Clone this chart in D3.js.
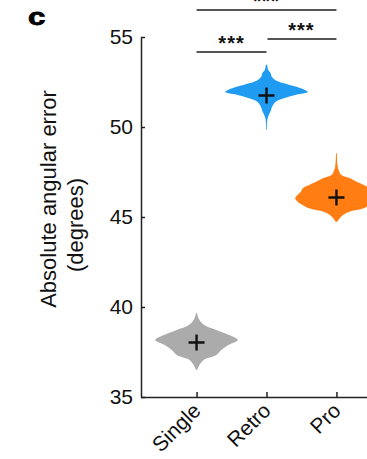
<!DOCTYPE html>
<html lang="en">

<head>
  <meta charset="UTF-8" />
  <script src="https://cdn.jsdelivr.net/npm/d3@7"></script>
  <title>Absolute angular error</title>
  <style>
    body { margin: 0; background: #fff; }
    text { font-family: "Liberation Sans", Arial, sans-serif; }
  </style>
</head>

<body>
  <svg width="367" height="459"></svg>
  <script>
    // groups along x
    const categories = ["Single", "Retro", "Pro"];
    const colors = ["#ababab", "#1f9bf2", "#ff7d12"];
    // mean of each group (degrees)
    const means = [38.03, 51.75, 46.08];
    // violin outlines: value (degrees) and relative density
    const singleValues = [39.67, 39.28, 39.0, 38.72, 38.44, 38.17, 37.89, 37.61, 37.33, 37.06, 36.78, 36.5];
    const singleDensity = [0.01, 0.07, 0.19, 0.48, 0.79, 1.0, 0.77, 0.6, 0.48, 0.17, 0.07, 0.01];
    const retroValues = [53.46, 53.18, 53.0, 52.82, 52.63, 52.44, 52.26, 52.07, 51.94, 51.79, 51.61, 51.43, 51.15, 50.87, 50.59, 50.32, 49.85];
    const retroDensity = [0.016, 0.04, 0.1, 0.12, 0.2, 0.4, 0.68, 0.92, 1.0, 0.72, 0.44, 0.24, 0.14, 0.1, 0.04, 0.016, 0.008];
    const proValues = [48.54, 47.8, 47.52, 47.33, 47.15, 46.96, 46.78, 46.59, 46.41, 46.13, 46.04, 45.85, 45.67, 45.48, 45.3, 45.11, 44.93, 44.74];
    const proDensity = [0.01, 0.03, 0.07, 0.12, 0.33, 0.49, 0.66, 0.82, 0.86, 0.98, 1.0, 0.94, 0.82, 0.66, 0.33, 0.16, 0.08, 0.02];
    const yTicks = [35, 40, 45, 50, 55];
    // significance comparisons
    const comparisons = [["Single", "Retro", "***"], ["Retro", "Pro", "***"], ["Single", "Pro", "***"]];

    const svg = d3.select("svg");

    const x = d3.scalePoint().domain(categories).range([142, 391]).padding(0.78);
    const y = d3.scaleLinear().domain([35, 55]).range([397, 37]);
    const w = d3.scaleLinear().domain([0, 1]).range([0, x.step() * 0.59]);

    const violins = [
      { cat: "Single", pts: singleValues.map((v, i) => ({ v, d: singleDensity[i] })) },
      { cat: "Retro", pts: retroValues.map((v, i) => ({ v, d: retroDensity[i] })) },
      { cat: "Pro", pts: proValues.map((v, i) => ({ v, d: proDensity[i] })) }
    ];

    const area = (cat) => d3.area()
      .y(d => y(d.v))
      .x0(d => x(cat) - w(d.d))
      .x1(d => x(cat) + w(d.d))
      .curve(d3.curveCatmullRom);

    svg.selectAll("path.violin")
      .data(violins)
      .enter()
      .append("path")
      .attr("class", "violin")
      .attr("fill", (d, i) => colors[i])
      .attr("d", d => area(d.cat)(d.pts));

    // mean markers
    const cross = svg.selectAll("g.mean")
      .data(categories)
      .enter()
      .append("g")
      .attr("class", "mean")
      .attr("transform", (d, i) => `translate(${x(d)},${y(means[i])})`);
    cross.append("path")
      .attr("d", "M-8,0H8M0,-8V8")
      .attr("stroke", "#111")
      .attr("stroke-width", 2.4);

    // y axis
    const yAxis = svg.append("g")
      .attr("transform", "translate(141,0)")
      .call(d3.axisLeft(y).tickValues(yTicks).tickSizeInner(-4).tickSizeOuter(0).tickPadding(8));
    yAxis.selectAll("text").attr("font-size", 21).attr("fill", "#111").attr("font-family", "Liberation Sans, Arial, sans-serif");

    // x axis
    const xAxis = svg.append("g")
      .attr("transform", "translate(0,397)")
      .call(d3.axisBottom(x).tickSizeInner(-5).tickSizeOuter(0));
    xAxis.select(".domain").attr("d", "M141,0.5H391");
    xAxis.selectAll("text")
      .attr("font-size", 21)
      .attr("fill", "#111")
      .attr("font-family", "Liberation Sans, Arial, sans-serif")
      .attr("text-anchor", "end")
      .attr("dy", null)
      .attr("y", 0)
      .attr("transform", "translate(5,15) rotate(-45)");

    svg.selectAll(".domain, .tick line").attr("stroke", "#222").attr("stroke-width", 1.5);

    // axis title
    const title = svg.append("text")
      .attr("transform", "translate(56,199) rotate(-90)")
      .attr("text-anchor", "middle")
      .attr("font-size", 22)
      .attr("fill", "#111");
    title.append("tspan").attr("x", 0).attr("y", 0).text("Absolute angular error");
    title.append("tspan").attr("x", -26).attr("y", 27).text("(degrees)");

    // significance bars
    const barY = [52, 39, 10];
    svg.selectAll("line.sig")
      .data(comparisons)
      .enter()
      .append("line")
      .attr("class", "sig")
      .attr("x1", d => x(d[0]) + (d[0] === "Retro" ? 1 : 0))
      .attr("x2", d => x(d[1]))
      .attr("y1", (d, i) => barY[i])
      .attr("y2", (d, i) => barY[i])
      .attr("stroke", "#555")
      .attr("stroke-width", 2);
    svg.selectAll("text.sig")
      .data(comparisons)
      .enter()
      .append("text")
      .attr("class", "sig")
      .attr("x", d => (x(d[0]) + x(d[1])) / 2)
      .attr("y", (d, i) => barY[i] - 2)
      .attr("text-anchor", "middle")
      .attr("font-size", 20)
      .attr("font-weight", "bold")
      .attr("letter-spacing", 1)
      .attr("fill", "#111")
      .text(d => d[2]);

    // panel letter
    svg.append("text")
      .attr("transform", "translate(28,25) scale(1.3,1)")
      .attr("font-size", 24)
      .attr("font-weight", "bold")
      .attr("fill", "#000")
      .attr("stroke", "#000")
      .attr("stroke-width", 0.8)
      .text("c");
  </script>
</body>

</html>
